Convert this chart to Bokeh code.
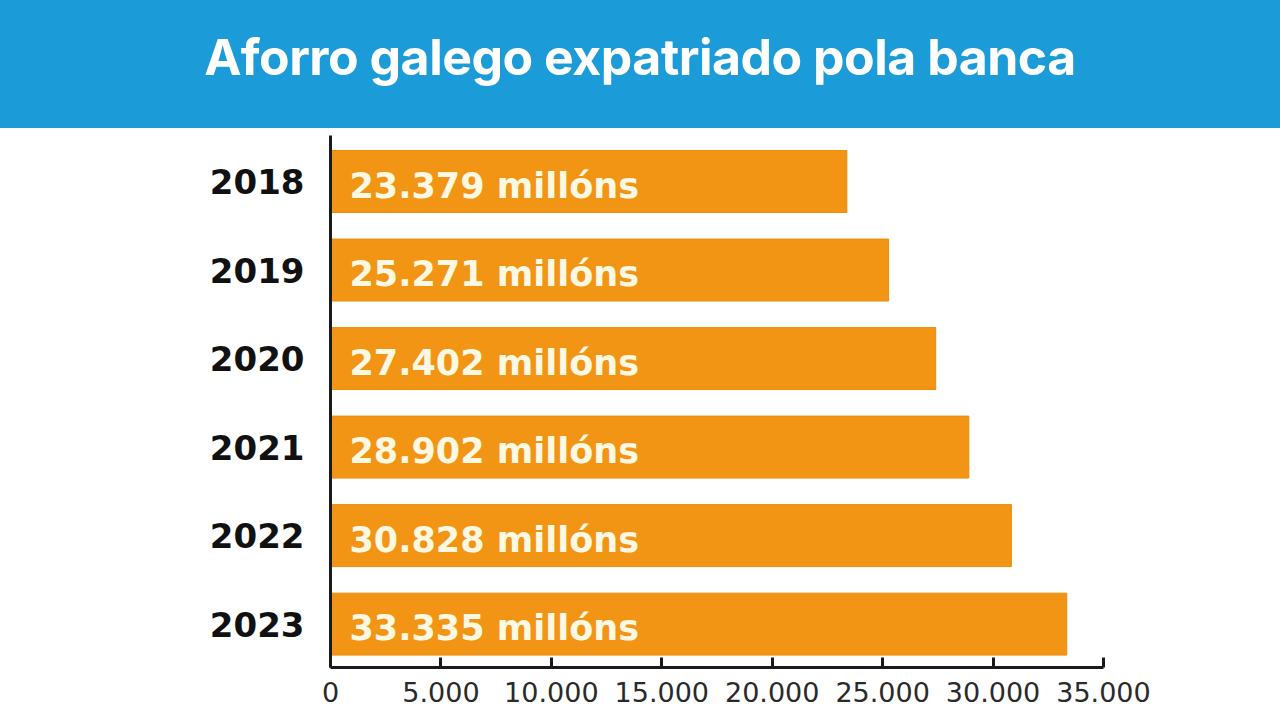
from bokeh.plotting import figure
from bokeh.models import Range1d, FixedTicker, Div
from bokeh.layouts import column
from bokeh.core.properties import value
from bokeh.embed import file_html
from bokeh.resources import INLINE

title = "Aforro galego expatriado pola banca"
years = ["2018", "2019", "2020", "2021", "2022", "2023"]
values = [23379, 25271, 27402, 28902, 30828, 33335]
bar_labels = ["23.379 millóns", "25.271 millóns", "27.402 millóns",
              "28.902 millóns", "30.828 millóns", "33.335 millóns"]
x_ticks = [0, 5000, 10000, 15000, 20000, 25000, 30000, 35000]
x_tick_labels = ["0", "5.000", "10.000", "15.000", "20.000", "25.000", "30.000", "35.000"]

BLUE = "#1b9bd8"
ORANGE = "#f39514"

header = Div(
    text=(f'<div style="width:1280px;height:128px;background:{BLUE};color:#ffffff;'
          'font-family:Inter, sans-serif;font-weight:700;font-size:50px;'
          'letter-spacing:-0.5px;text-align:center;line-height:114px;">'
          f'{title}</div>'),
    width=1280, height=128, margin=0,
)

idx = list(range(len(years)))

p = figure(width=1280, height=588, output_backend="svg", toolbar_location=None,
           x_range=Range1d(0, 35000), y_range=Range1d(5.49, -0.52),
           min_border_left=330, min_border_right=177, min_border_top=7,
           min_border_bottom=49, margin=0)
p.outline_line_color = None
p.grid.grid_line_color = None
p.background_fill_color = "#ffffff"
p.border_fill_color = "#ffffff"

p.hbar(y=idx, left=0, right=values, height=0.70, fill_color=ORANGE,
       line_color="#ea8c0c", line_width=1)
p.text(x=[0] * len(idx), y=idx, text=bar_labels, x_offset=19, y_offset=4,
       text_baseline="middle", text_align="left",
       text_font=value("DejaVu Sans"), text_font_style="bold",
       text_font_size="35px", text_color="#fff9e3")

ya = p.yaxis[0]
ya.ticker = FixedTicker(ticks=idx)
ya.major_label_overrides = {i: y for i, y in zip(idx, years)}
ya.major_tick_line_color = None
ya.minor_tick_line_color = None
ya.axis_line_width = 3
ya.axis_line_color = "#1a1a1a"
ya.major_label_text_font = "DejaVu Sans"
ya.major_label_text_font_style = "bold"
ya.major_label_text_font_size = "34px"
ya.major_label_text_color = "#111111"
ya.major_label_standoff = 20

xa = p.xaxis[0]
xa.ticker = FixedTicker(ticks=x_ticks)
xa.major_label_overrides = {t: l for t, l in zip(x_ticks, x_tick_labels)}
xa.minor_tick_line_color = None
xa.major_tick_in = 10
xa.major_tick_out = 0
xa.major_tick_line_width = 3
xa.major_tick_line_color = "#1a1a1a"
xa.axis_line_width = 3
xa.axis_line_color = "#1a1a1a"
xa.major_label_text_font = "DejaVu Sans"
xa.major_label_text_font_size = "27px"
xa.major_label_text_color = "#2a2a2a"
xa.major_label_standoff = 14

strip = Div(text=f'<div style="width:1280px;height:4px;background:{BLUE};"></div>',
            width=1280, height=4, margin=0)

layout = column(header, p, strip, spacing=0)
open("out.html", "w").write(file_html(layout, INLINE))
